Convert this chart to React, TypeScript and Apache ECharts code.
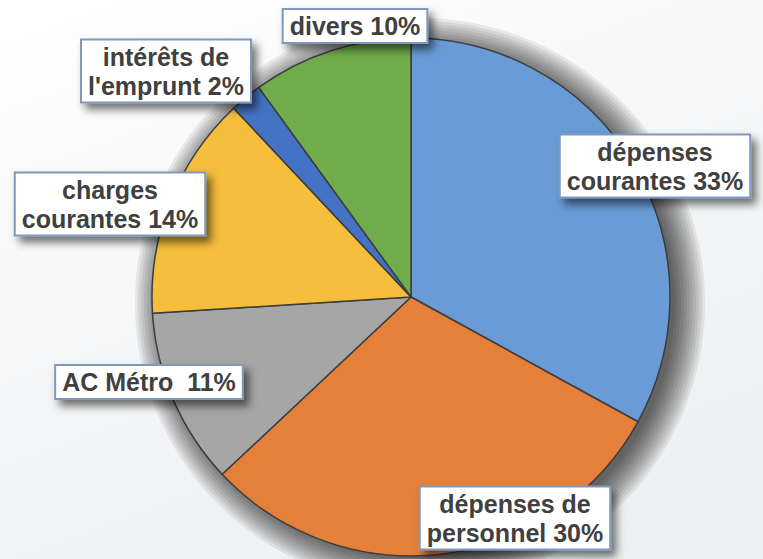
import React, { useEffect, useRef } from "react";
import * as echarts from "echarts";

const categories = [
  "dépenses\ncourantes",
  "dépenses de\npersonnel",
  "AC Métro ",
  "charges\ncourantes",
  "intérêts de\nl'emprunt",
  "divers",
];
const values = [33, 30, 11, 14, 2, 10];
const colors = ["#6A9BD6", "#E5803B", "#A6A6A6", "#F5BE3C", "#4472C4", "#71AC4B"];
// label box centres (px)
const labelX = [655, 515, 149, 110, 166, 355];
const labelY = [166, 518, 382, 204, 71, 26];

export default function App() {
  const ref = useRef<HTMLDivElement>(null);
  useEffect(() => {
    document.body.style.margin = "0";
    if (!ref.current) return;
    const chart = echarts.init(ref.current, undefined, { renderer: "svg" });
    const center = [411, 297];
    const radius = 259;
    // soft drop shadow: stacked translucent discs offset down-right
    const shadowSteps = 11;
    const shadowSeries = Array.from({ length: shadowSteps }, (_, k) => ({
      type: "pie",
      silent: true,
      center: [center[0] + 9, center[1] + 6],
      radius: radius - 4 + k * 3,
      label: { show: false },
      labelLine: { show: false },
      itemStyle: { color: "rgba(0,0,0,0.075)", borderWidth: 0 },
      data: [{ value: 1, name: "shadow" }],
      z: 1,
    }));
    chart.setOption({
      animation: false,
      series: [
        ...shadowSeries,
        {
          type: "pie",
          center,
          radius,
          startAngle: 90,
          clockwise: true,
          z: 2,
          itemStyle: { borderColor: "#3d3d3d", borderWidth: 1.5 },
          labelLine: { show: false },
          label: {
            show: true,
            position: "inside",
            overflow: "none",
            formatter: (p: any) => `${p.name} ${p.value}%`,
            color: "#404040",
            fontFamily: "Liberation Sans, Arial, sans-serif",
            fontWeight: "bold",
            fontSize: 25,
            lineHeight: 29,
            align: "center",
            verticalAlign: "middle",
            backgroundColor: "#ffffff",
            borderColor: "#7f98bd",
            borderWidth: 2,
            padding: [2, 6, 1, 6],
            shadowBlur: 8,
            shadowOffsetX: 5,
            shadowOffsetY: 6,
            shadowColor: "rgba(0,0,0,0.55)",
          },
          labelLayout: (p: any) => ({
            x: labelX[p.dataIndex],
            y: labelY[p.dataIndex],
            align: "center",
            verticalAlign: "middle",
          }),
          data: categories.map((name, i) => ({
            name,
            value: values[i],
            itemStyle: { color: colors[i] },
          })),
        },
      ],
    });
    return () => chart.dispose();
  }, []);
  return (
    <div
      ref={ref}
      style={{
        width: 763,
        height: 559,
        background: "linear-gradient(160deg, #ffffff 0%, #f4f5f6 50%, #eceeef 100%)",
      }}
    />
  );
}
